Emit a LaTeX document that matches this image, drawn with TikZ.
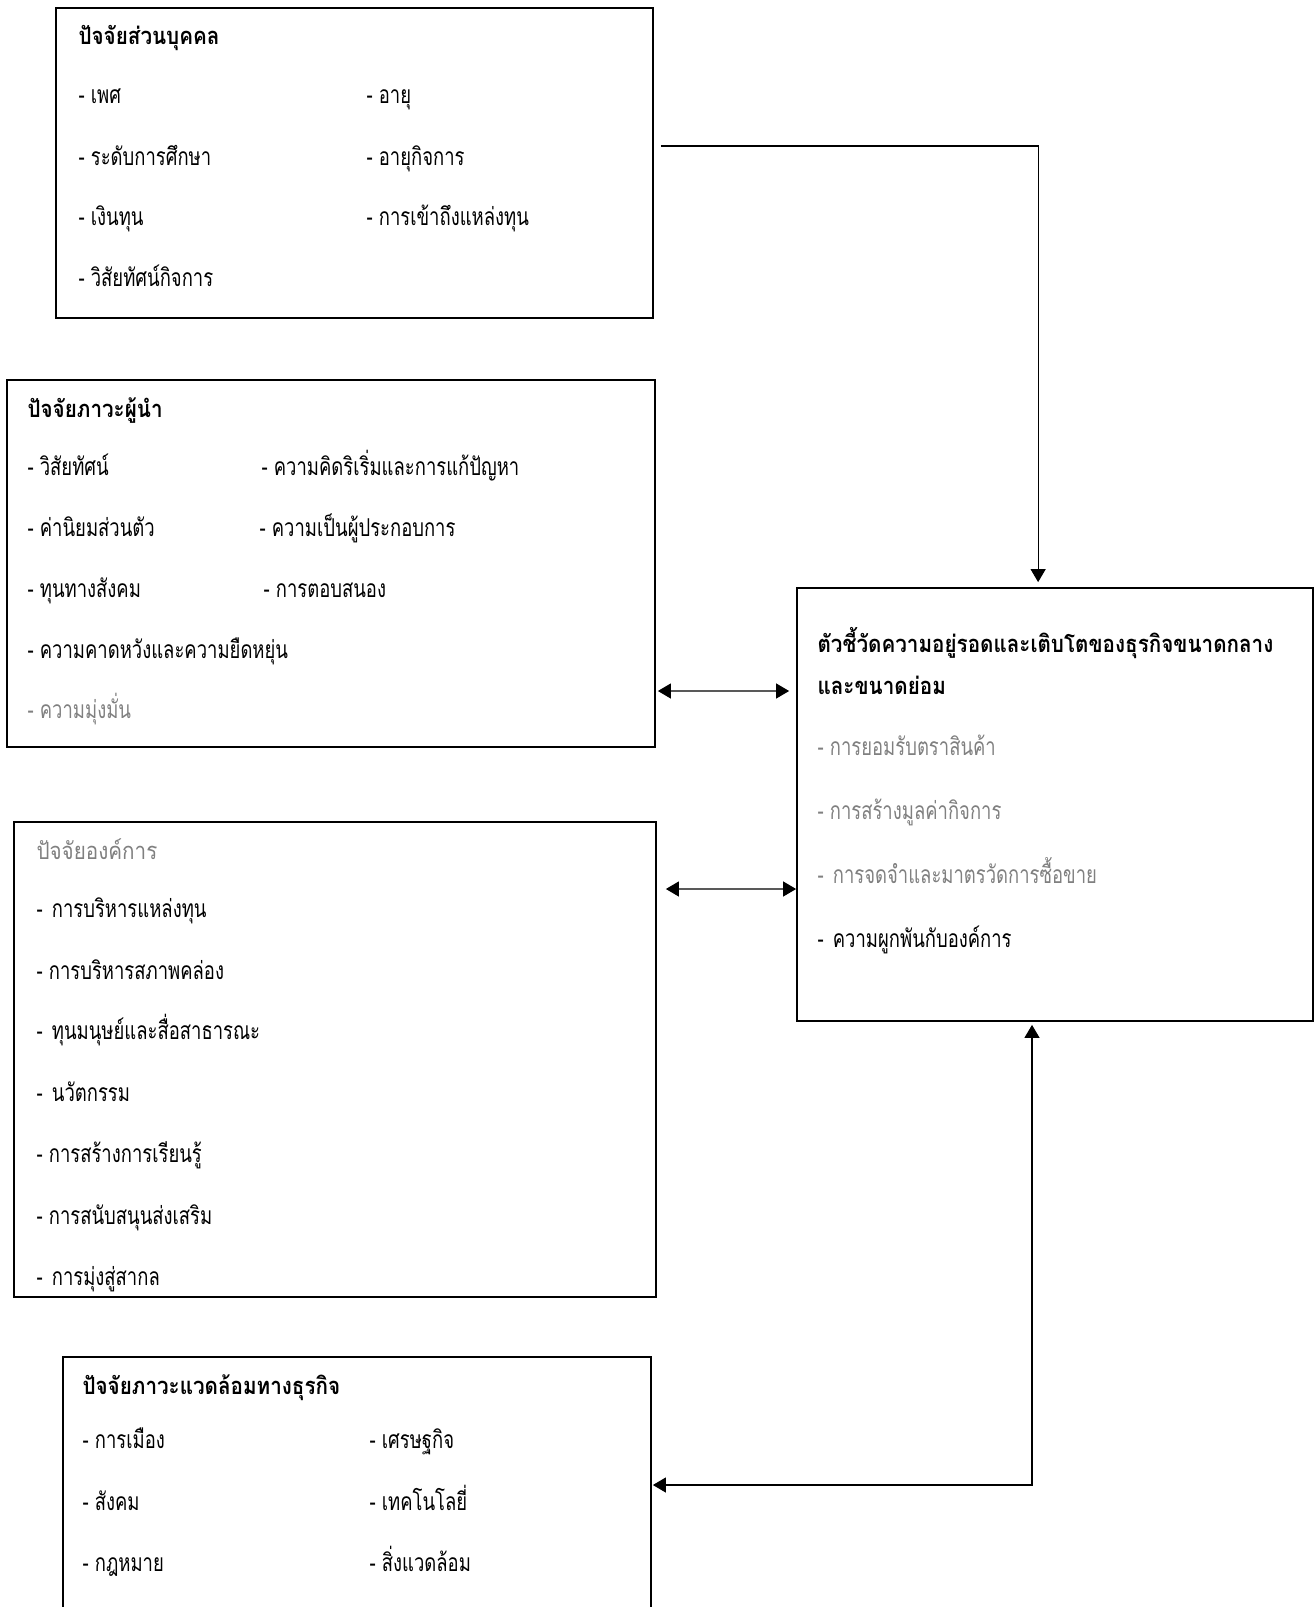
\documentclass[tikz,border=0pt]{standalone}
\usepackage{fontspec}
\setmainfont[Script=Thai]{Loma}
\newfontfamily\itemfont[Script=Thai, FakeStretch=0.75]{Loma}
\newfontfamily\headfont[Script=Thai, FakeStretch=0.87]{Loma}
\newcommand{\widegap}{\kern0.6mm}
\usetikzlibrary{arrows.meta, positioning, calc, fit}
\definecolor{tgrey}{HTML}{808080}
\tikzset{
  every picture/.style={line width=0.6pt},
  box/.style={draw=black, line width=1pt, inner sep=0pt},
  item/.style={anchor=base west, inner sep=0pt, yshift=-0.4mm, font=\itemfont\fontsize{14}{16}\selectfont},
  head/.style={item, font=\headfont\bfseries\fontsize{13.5}{16}\selectfont},
  faded/.style={item, text=tgrey},
  fadedhead/.style={item, text=tgrey, font=\headfont\fontsize{13.5}{16}\selectfont},
  arrow/.style={-{Triangle[length=2.6mm, width=3mm]}, line width=0.6pt},
  biarrow/.style={{Triangle[length=2.6mm, width=3mm]}-{Triangle[length=2.6mm, width=3mm]}, line width=0.6pt},
}
\begin{document}
\begin{tikzpicture}[x=0.2mm, y=-0.2mm]
  \useasboundingbox (0,0) rectangle (1315,1607);
  \clip (0,0) rectangle (1315,1607);
  % boxes
  \node[box, fit={(56,8) (653,318)}] (personal) {};
  \node[box, fit={(7,380) (655,747)}] (leader) {};
  \node[box, fit={(14,822) (656,1297)}] (org) {};
  \node[box, fit={(63,1357) (651,1640)}] (env) {};
  \node[box, fit={(797,588) (1313,1021)}] (kpi) {};
  % personal factors
  \node[head] (p0) at (78,43) {ปัจจัยส่วนบุคคล};
  \node[item] (p1) at (78,102) {- เพศ};
  \node[item] (p2) at (366,102) {- อายุ};
  \node[item] (p3) at (78,163) {- ระดับการศึกษา};
  \node[item] (p4) at (366,163) {- อายุกิจการ};
  \node[item] (p5) at (78,223) {- เงินทุน};
  \node[item] (p6) at (366,223) {- การเข้าถึงแหล่งทุน};
  \node[item] (p7) at (78,284) {- วิสัยทัศน์กิจการ};
  % leadership factors
  \node[head] (l0) at (27,415) {ปัจจัยภาวะผู้นำ};
  \node[item] (l1) at (27,473) {- วิสัยทัศน์};
  \node[item] (l2) at (261,473) {- ความคิดริเริ่มและการแก้ปัญหา};
  \node[item] (l3) at (27,534) {- ค่านิยมส่วนตัว};
  \node[item] (l4) at (259,534) {- ความเป็นผู้ประกอบการ};
  \node[item] (l5) at (27,595) {- ทุนทางสังคม};
  \node[item] (l6) at (263,595) {- การตอบสนอง};
  \node[item] (l7) at (27,656) {- ความคาดหวังและความยืดหยุ่น};
  \node[faded] (l8) at (27,716) {- ความมุ่งมั่น};
  % organisation factors
  \node[fadedhead] (o0) at (36,857) {ปัจจัยองค์การ};
  \node[item] (o1) at (36,915) {- \widegap การบริหารแหล่งทุน};
  \node[item] (o2) at (36,977) {- การบริหารสภาพคล่อง};
  \node[item] (o3) at (36,1037) {- \widegap ทุนมนุษย์และสื่อสาธารณะ};
  \node[item] (o4) at (36,1099) {- \widegap นวัตกรรม};
  \node[item] (o5) at (36,1160) {- การสร้างการเรียนรู้};
  \node[item] (o6) at (36,1222) {- การสนับสนุนส่งเสริม};
  \node[item] (o7) at (36,1283) {- \widegap การมุ่งสู่สากล};
  % business environment
  \node[head] (e0) at (82,1392) {ปัจจัยภาวะแวดล้อมทางธุรกิจ};
  \node[item] (e1) at (82,1446) {- การเมือง};
  \node[item] (e2) at (369,1446) {- เศรษฐกิจ};
  \node[item] (e3) at (82,1508) {- สังคม};
  \node[item] (e4) at (369,1508) {- เทคโนโลยี่};
  \node[item] (e5) at (82,1569) {- กฎหมาย};
  \node[item] (e6) at (369,1569) {- สิ่งแวดล้อม};
  % indicators
  \node[head] (k0) at (817,650) {ตัวชี้วัดความอยู่รอดและเติบโตของธุรกิจขนาดกลาง};
  \node[head] (k1) at (817,692) {และขนาดย่อม};
  \node[faded] (k2) at (817,753) {- การยอมรับตราสินค้า};
  \node[faded] (k3) at (817,817) {- การสร้างมูลค่ากิจการ};
  \node[faded] (k4) at (817,881) {- \widegap การจดจำและมาตรวัดการซื้อขาย};
  \node[item] (k5) at (817,945) {- \widegap ความผูกพันกับองค์การ};
  % connectors
  \draw[arrow] ($(personal.east)+(7,-17)$) -| ($(kpi.north west)+(242,-5)$);
  \draw[biarrow] ($(leader.east)+(2,127.5)$) -- ($(kpi.west)+(-7,-113.5)$);
  \draw[biarrow] ($(org.east)+(9,-170.5)$) -- ($(kpi.west)+(0,84.5)$);
  \draw[biarrow] ($(env.east)+(1,-13.5)$) -| ($(kpi.south)+(-23,3)$);
\end{tikzpicture}
\end{document}
